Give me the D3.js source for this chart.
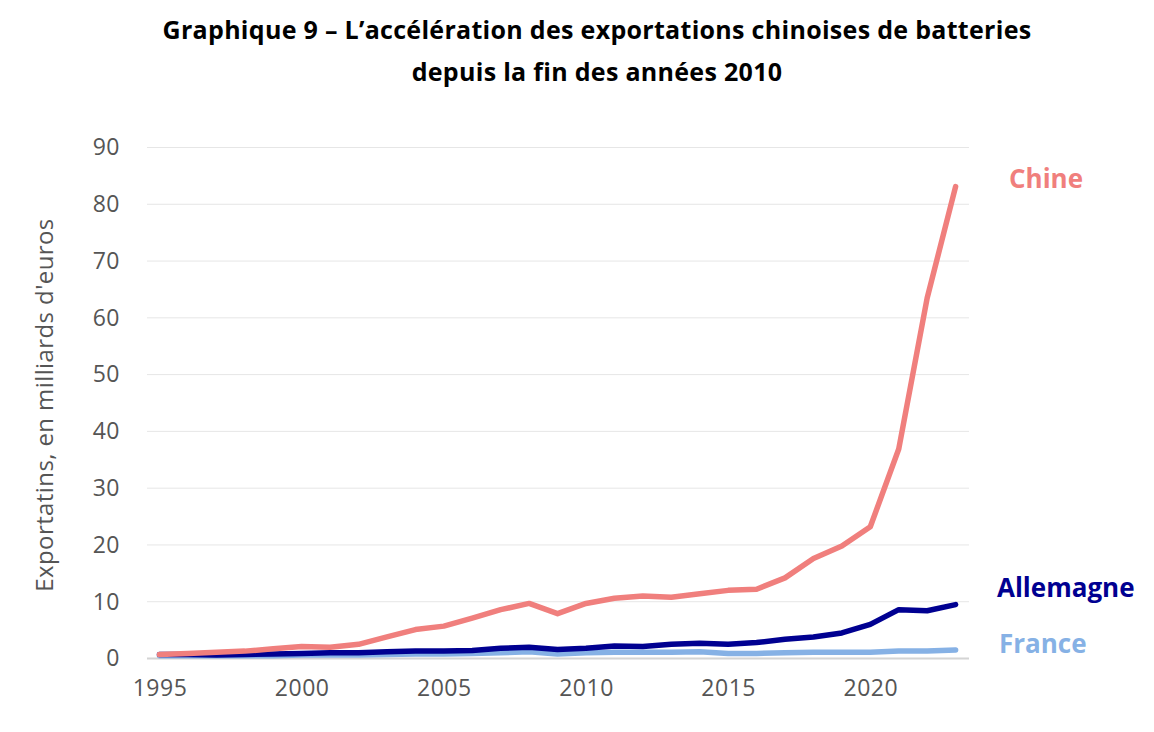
<!DOCTYPE html>
<html>
<head>
<meta charset="utf-8">
<script src="https://cdn.jsdelivr.net/npm/d3@7"></script>
<style>
  body { margin: 0; background: #fff; }
  svg { display: block; font-family: "Open Sans", sans-serif; }
</style>
</head>
<body>
<div id="chart"></div>
<script>
// Exportations de batteries, en milliards d'euros
var years = d3.range(1995, 2024);
var chine = [0.7, 0.9, 1.1, 1.3, 1.7, 2.1, 2.0, 2.5, 3.8, 5.1, 5.7, 7.1, 8.6, 9.7, 7.9,
  9.7, 10.6, 11.0, 10.8, 11.4, 12.0, 12.2, 14.2, 17.6, 19.8, 23.2, 36.9, 63.5, 83.1];
var allemagne = [0.7, 0.7, 0.6, 0.7, 0.8, 0.9, 1.0, 1.0, 1.2, 1.3, 1.3, 1.4, 1.8, 2.0, 1.6,
  1.8, 2.2, 2.1, 2.5, 2.7, 2.5, 2.8, 3.4, 3.8, 4.5, 6.0, 8.6, 8.4, 9.5];
var france = [0.5, 0.5, 0.5, 0.5, 0.5, 0.6, 0.6, 0.6, 0.7, 0.8, 0.8, 0.9, 1.0, 1.2, 0.8,
  1.0, 1.1, 1.1, 1.1, 1.2, 0.9, 0.9, 1.0, 1.1, 1.1, 1.1, 1.3, 1.3, 1.5];
var yTicks = [0, 10, 20, 30, 40, 50, 60, 70, 80, 90];
var xTicks = [1995, 2000, 2005, 2010, 2015, 2020];

var series = [
  { name: "Chine", values: chine, color: "#f07f7d", lx: 1009, ly: 188 },
  { name: "Allemagne", values: allemagne, color: "#000091", lx: 997, ly: 597 },
  { name: "France", values: france, color: "#86b1e5", lx: 999, ly: 653 }
];

var W = 1154, H = 732;
var svg = d3.select("#chart").append("svg").attr("width", W).attr("height", H);

var x = d3.scaleLinear().domain([1995, 2023]).range([159.5, 955.6]);
var y = d3.scaleLinear().domain([0, 90]).range([658.5, 147.5]);
var gridL = 147, gridR = 969;

svg.append("text").attr("x", 597).attr("y", 39).attr("text-anchor", "middle")
  .attr("font-size", "25px").attr("font-weight", "bold").attr("fill", "#000")
  .attr("letter-spacing", "0.3px")
  .text("Graphique 9 – L’accélération des exportations chinoises de batteries");
svg.append("text").attr("x", 597).attr("y", 81).attr("text-anchor", "middle")
  .attr("font-size", "25px").attr("font-weight", "bold").attr("fill", "#000")
  .attr("letter-spacing", "0.3px")
  .text("depuis la fin des années 2010");

// grille horizontale
svg.append("g").selectAll("line").data(yTicks).enter().append("line")
  .attr("x1", gridL).attr("x2", gridR)
  .attr("y1", function (d) { return y(d); }).attr("y2", function (d) { return y(d); })
  .attr("stroke", function (d) { return d === 0 ? "#d4d4d4" : "#e6e6e6"; })
  .attr("stroke-width", function (d) { return d === 0 ? 2 : 1; });

// axes (texte seulement)
function styleTicks(g) {
  g.select(".domain").remove();
  g.selectAll("text").attr("fill", "#555").attr("font-size", "23px")
    .attr("letter-spacing", "0.5px")
    .attr("font-family", "'Open Sans', sans-serif");
}
var yAxis = d3.axisLeft(y).tickValues(yTicks).tickSize(0).tickPadding(0);
svg.append("g").attr("transform", "translate(120,0)").call(yAxis).call(styleTicks);
var xAxis = d3.axisBottom(x).tickValues(xTicks).tickFormat(d3.format("d")).tickSize(0).tickPadding(0);
svg.append("g").attr("transform", "translate(0,680)").call(xAxis).call(styleTicks);

svg.append("text").attr("transform", "translate(53,405) rotate(-90)")
  .attr("text-anchor", "middle").attr("font-size", "24px").attr("fill", "#555")
  .attr("letter-spacing", "0.4px")
  .text("Exportatins, en milliards d'euros");

var line = d3.line()
  .x(function (d, i) { return x(years[i]); })
  .y(function (d) { return y(d); });

// France, puis Allemagne, puis Chine au premier plan
[series[2], series[1], series[0]].forEach(function (s) {
  svg.append("path").datum(s.values)
    .attr("fill", "none").attr("stroke", s.color).attr("stroke-width", 5.5)
    .attr("stroke-linecap", "round").attr("stroke-linejoin", "round")
    .attr("d", line);
});

series.forEach(function (s) {
  svg.append("text").attr("x", s.lx).attr("y", s.ly)
    .attr("font-size", "26px").attr("font-weight", "bold").attr("fill", s.color)
    .text(s.name);
});
</script>
</body>
</html>
